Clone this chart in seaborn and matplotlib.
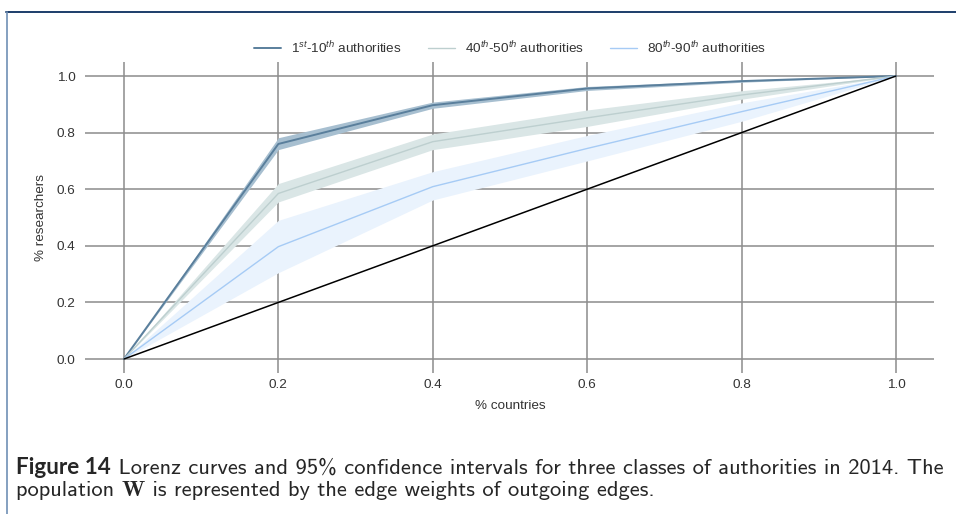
import matplotlib
matplotlib.use("Agg")
import matplotlib.pyplot as plt
import seaborn as sns
import pandas as pd
from matplotlib.lines import Line2D

# ---- data ----
x_share = [0.0, 0.2, 0.4, 0.6, 0.8, 1.0]
series_names = [r"1$^{st}$-10$^{th}$ authorities",
                r"40$^{th}$-50$^{th}$ authorities",
                r"80$^{th}$-90$^{th}$ authorities"]
top_mean = [0.0, 0.760, 0.897, 0.956, 0.982, 1.0]
top_lo   = [0.0, 0.740, 0.886, 0.949, 0.978, 1.0]
top_hi   = [0.0, 0.782, 0.908, 0.963, 0.986, 1.0]
mid_mean = [0.0, 0.585, 0.768, 0.852, 0.933, 1.0]
mid_lo   = [0.0, 0.555, 0.740, 0.822, 0.918, 1.0]
mid_hi   = [0.0, 0.620, 0.795, 0.880, 0.948, 1.0]
low_mean = [0.0, 0.397, 0.609, 0.744, 0.874, 1.0]
low_lo   = [0.0, 0.305, 0.562, 0.700, 0.840, 1.0]
low_hi   = [0.0, 0.490, 0.662, 0.790, 0.905, 1.0]
equality = [0.0, 0.2, 0.4, 0.6, 0.8, 1.0]
ticks = [0.0, 0.2, 0.4, 0.6, 0.8, 1.0]

line_colors = ["#5a7f9c", "#bdcfcf", "#a6cbf5"]
band_colors = ["#a7bfd0", "#dae6e6", "#eaf3fd"]
line_widths = [1.4, 1.0, 1.0]

sns.set_theme(style="white")
plt.rcParams["font.family"] = ["Liberation Sans", "DejaVu Sans"]
plt.rcParams["mathtext.fontset"] = "custom"
plt.rcParams["mathtext.rm"] = "Liberation Sans"
plt.rcParams["mathtext.it"] = "Liberation Sans:italic"

fs = 9.7
fig = plt.figure(figsize=(9.56, 5.14), dpi=100)
ax = fig.add_axes([0.0893, 0.274, 0.8882, 0.6056])

means = [top_mean, mid_mean, low_mean]
los = [top_lo, mid_lo, low_lo]
his = [top_hi, mid_hi, low_hi]

rows = []
for name, m in zip(series_names, means):
    for xv, yv in zip(x_share, m):
        rows.append({"x": xv, "y": yv, "series": name})
df = pd.DataFrame(rows)

for i in range(3):
    ax.fill_between(x_share, los[i], his[i], color=band_colors[i], lw=0, zorder=2)

for i, name in enumerate(series_names):
    sns.lineplot(data=df[df["series"] == name], x="x", y="y", ax=ax,
                 color=line_colors[i], lw=line_widths[i], zorder=3,
                 legend=False)

ax.plot(x_share, equality, color="black", lw=1.1, zorder=3)

ax.set_xlim(-0.05, 1.05)
ax.set_ylim(-0.05, 1.05)
ax.set_xticks(ticks)
ax.set_yticks(ticks)
ax.set_xticklabels([f"{t:.1f}" for t in ticks])
ax.set_yticklabels([f"{t:.1f}" for t in ticks])
ax.grid(True, color="#8c8c8c", lw=1.1, zorder=1)
for s in ax.spines.values():
    s.set_visible(False)
ax.tick_params(axis="both", length=0, labelsize=fs, labelcolor="#333333")
ax.tick_params(axis="y", pad=7)
ax.tick_params(axis="x", pad=4.5)
ax.set_xlabel("% countries", fontsize=fs, color="#333333", labelpad=6)
ax.set_ylabel("% researchers", fontsize=fs, color="#333333", labelpad=7)

handles = [Line2D([0], [0], color=c, lw=w) for c, w in zip(line_colors, line_widths)]
ax.legend(handles, series_names, loc="lower center", bbox_to_anchor=(0.5, 1.0),
          ncol=3, frameon=False, fontsize=fs, handlelength=2.0,
          handletextpad=0.8, columnspacing=1.9, borderaxespad=0.05,
          labelcolor="#333333")

# frame lines
fig.add_artist(Line2D([5.5 / 956, 1.0], [1 - 11.5 / 514, 1 - 11.5 / 514],
                      transform=fig.transFigure, color="#1c3d6a", lw=1.4))
fig.add_artist(Line2D([7 / 956, 7 / 956], [0.0, 1 - 11.5 / 514],
                      transform=fig.transFigure, color="#7090b5", lw=1.2))

# caption
cap_size = 16.2
t1 = fig.text(16 / 956, 1 - 467 / 514, "Figure 14", fontsize=cap_size,
              fontweight="bold", family="Lato", va="center", ha="left")
ax.annotate(" Lorenz curves and 95% confidence intervals for three classes of authorities in 2014. The",
            xy=(1, 0), xycoords=t1, va="bottom", ha="left",
            fontsize=cap_size, family="cmss10", annotation_clip=False)
t2 = fig.text(16 / 956, 1 - 490 / 514, "population ", fontsize=cap_size,
              family="cmss10", va="center", ha="left")
a2 = ax.annotate("W", xy=(1, 0), xycoords=t2, va="bottom", ha="left",
                 fontsize=cap_size, family="cmb10", annotation_clip=False)
ax.annotate(" is represented by the edge weights of outgoing edges.",
            xy=(1, 0), xycoords=a2, va="bottom", ha="left",
            fontsize=cap_size, family="cmss10", annotation_clip=False)

fig.savefig("out.png", dpi=100)
